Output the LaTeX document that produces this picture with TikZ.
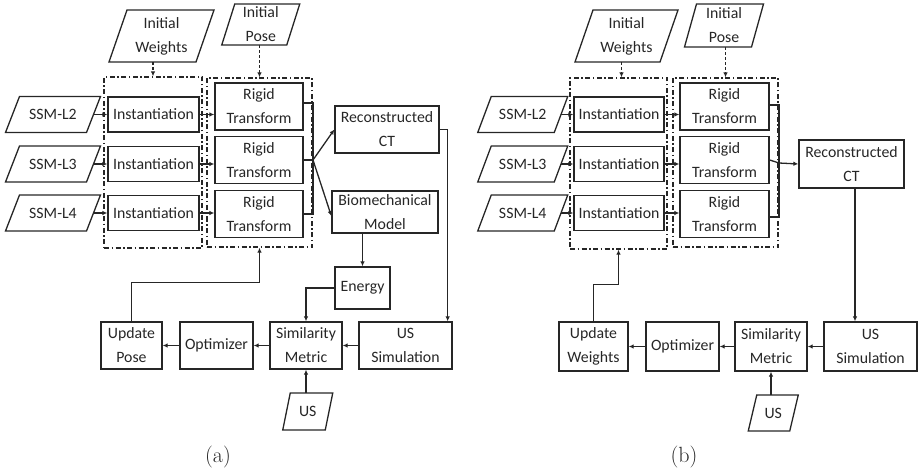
\documentclass[tikz,border=0pt]{standalone}
\usepackage{fontspec}
\newfontfamily\boxfont{Carlito}
\usetikzlibrary{arrows.meta,calc}
\definecolor{ink}{rgb}{0.15,0.15,0.15}
\tikzset{
  box/.style={draw=ink, text=ink, line width=1.3pt, inner sep=0pt, align=center,
    font=\boxfont\fontsize{15.8}{24}\selectfont},
  ptext/.style={inner sep=0pt, align=center, text=ink,
    font=\boxfont\fontsize{15.8}{24}\selectfont},
  grp/.style={draw=ink, line width=1.3pt, dash pattern=on 5pt off 2.5pt on 1.5pt off 2.5pt},
  arr/.style={draw=ink, line width=1.3pt, -{Latex[length=5pt,width=4.5pt]}},
  darr/.style={draw=ink, line width=1.3pt, dash pattern=on 3pt off 2pt, -{Latex[length=5pt,width=4.5pt]}},
  ln/.style={draw=ink, line width=1.3pt},
  captext/.style={inner sep=0pt, font=\fontsize{22}{26}\selectfont, text=ink},
}
% \para{name}{cx}{cy}{w}{h}{slant}{text}
\newcommand{\para}[7]{%
  \node[ptext, minimum width=#4pt, minimum height=#5pt] (#1) at (#2,#3) {#7};
  \draw[ln] ($(#2,#3)+(-#4/2-#6/2,#5/2)$) -- ($(#2,#3)+(#4/2-#6/2,#5/2)$)
    -- ($(#2,#3)+(#4/2+#6/2,-#5/2)$) -- ($(#2,#3)+(-#4/2+#6/2,-#5/2)$) -- cycle;
}
\begin{document}
\begin{tikzpicture}[x=1pt,y=-1pt]
\useasboundingbox (0,0) rectangle (923,473);

% ================= (a) =================
\para{iwa}{161.5}{36}{87}{52}{18}{Initial\\Weights}
\para{ipa}{260.75}{24.5}{65}{41}{13}{Initial\\Pose}
\node[grp, minimum width=98pt, minimum height=171pt] (gia) at (153,162.5) {};
\node[grp, minimum width=105pt, minimum height=169pt] (gra) at (259.5,162.5) {};

\foreach \i/\y/\ry in {2/114.5/106.5, 3/164/160, 4/213/214}{
  \para{ssma\i}{53}{\y}{81}{36}{14}{SSM-L\i}
  \node[box, minimum width=91pt, minimum height=35pt] (ina\i) at (153.5,\y) {Instantiation};
  \node[box, minimum width=88pt, minimum height=47pt] (rta\i) at (259,\ry) {Rigid\\Transform};
  \draw[arr] (ssma\i.east) -- (ina\i.west);
  \draw[arr] (ina\i.east) -- (ina\i.east -| rta\i.west);
}
\draw[darr] (gia.north |- iwa.south) -- (gia.north);
\draw[darr] (gra.north |- ipa.south) -- (gra.north);

\node[box, minimum width=104pt, minimum height=47pt] (cta) at (387,129.5) {Reconstructed\\CT};
\node[box, minimum width=106pt, minimum height=42pt] (bioa) at (385,212) {Biomechanical\\Model};
\node[box, minimum width=55pt, minimum height=42pt] (ena) at (362.5,288) {Energy};
\node[box, minimum width=72pt, minimum height=47pt] (sma) at (306,345.5) {Similarity\\Metric};
\node[box, minimum width=93pt, minimum height=47pt] (usa) at (405.5,345.5) {US\\Simulation};
\node[box, minimum width=73pt, minimum height=47pt] (opa) at (216.5,345.5) {Optimizer};
\node[box, minimum width=61pt, minimum height=47pt] (upa) at (131.5,345.5) {Update\\Pose};
\para{usia}{307.75}{411.5}{42.5}{37}{7.5}{US}

\coordinate (ja) at (313,160);
\draw[ln] (rta2.east |- 0,103) -- (313,103) -- (313,214) -- (rta4.east |- 0,214);
\draw[ln] (rta3.east) -- (ja);
\draw[arr] (ja) -- (cta.west);
\draw[arr] (ja) -- ([yshift=-4pt]bioa.west);
\draw[arr] (cta.east) -| ([xshift=-5pt]usa.north east);
\draw[arr] (bioa.south -| ena.north) -- (ena.north);
\draw[arr] (ena.west) -| (sma.north);
\draw[arr] (usa.west) -- (sma.east);
\draw[arr] (sma.west) -- (opa.east);
\draw[arr] (opa.west) -- (upa.east);
\draw[arr] (upa.north) -- ++(0,-39) -| (gra.south);
\draw[arr] (usia.north -| sma.south) -- (sma.south);
\node[captext] (capa) at (218,457) {(a)};

% ================= (b) =================
\para{iwb}{626.5}{36}{85}{52}{18}{Initial\\Weights}
\para{ipb}{724}{25.5}{67}{43}{12}{Initial\\Pose}
\node[grp, minimum width=97pt, minimum height=171pt] (gib) at (618.5,163.5) {};
\node[grp, minimum width=105pt, minimum height=169pt] (grb) at (725.5,162.5) {};

\foreach \i/\y/\ry in {2/114.5/106.5, 3/164/160, 4/213/214}{
  \para{ssmb\i}{522.75}{\y}{76.5}{36}{13.5}{SSM-L\i}
  \node[box, minimum width=90pt, minimum height=35pt] (inb\i) at (619,\y) {Instantiation};
  \node[box, minimum width=89pt, minimum height=47pt] (rtb\i) at (724.5,\ry) {Rigid\\Transform};
  \draw[arr] (ssmb\i.east) -- (inb\i.west);
  \draw[arr] (inb\i.east) -- (inb\i.east -| rtb\i.west);
}
\draw[darr] ([xshift=3pt]gib.north |- iwb.south) -- ([xshift=3pt]gib.north);
\draw[darr] (grb.north |- ipb.south) -- (grb.north);

\node[box, minimum width=105pt, minimum height=48pt] (ctb) at (851.5,164) {Reconstructed\\CT};
\node[box, minimum width=72pt, minimum height=49pt] (smb) at (771,346.5) {Similarity\\Metric};
\node[box, minimum width=93pt, minimum height=49pt] (usb) at (870.5,346.5) {US\\Simulation};
\node[box, minimum width=73pt, minimum height=49pt] (opb) at (682.5,346.5) {Optimizer};
\node[box, minimum width=69pt, minimum height=49pt] (upb) at (593.5,346.5) {Update\\Weights};
\para{usib}{773.25}{413}{41.5}{36}{8.5}{US}

\coordinate (jb) at (779,163);
\draw[ln] (rtb2.east |- 0,105) -- (779,105) -- (779,217) -- (rtb4.east |- 0,217);
\draw[ln] (rtb3.east) -- (jb);
\draw[arr] (jb) -- (ctb.west);
\draw[arr] ([xshift=3.5pt]ctb.south) -- ([xshift=3.5pt]ctb.south |- usb.north);
\draw[arr] (usb.west) -- (smb.east);
\draw[arr] (smb.west) -- (opb.east);
\draw[arr] (opb.west) -- (upb.east);
\draw[arr] (upb.north) -- ++(0,-37) -| (gib.south);
\draw[arr] (usib.north -| smb.south) -- (smb.south);
\node[captext] (capb) at (684,457) {(b)};
\end{tikzpicture}
\end{document}
